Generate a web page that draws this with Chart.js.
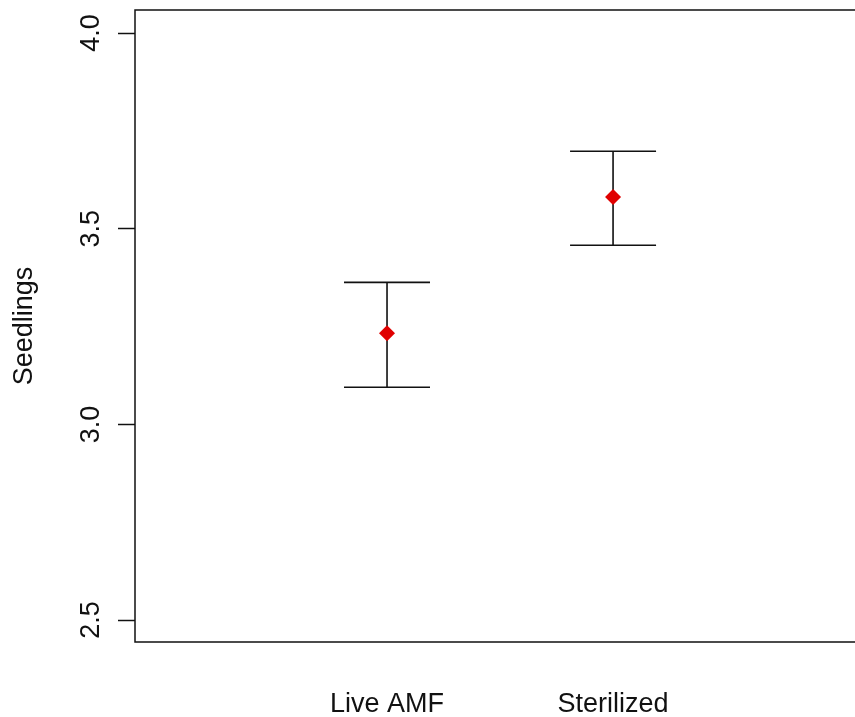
<!DOCTYPE html>
<html>
<head>
<meta charset="utf-8">
<script src="https://cdn.jsdelivr.net/npm/chart.js@4"></script>
<style>
  html, body { margin: 0; padding: 0; overflow: hidden; background: #fff; }
  #wrap { width: 855px; height: 717px; }
</style>
</head>
<body>
<div id="wrap"><canvas id="c"></canvas></div>
<script>
const categories = ["Live AMF", "Sterilized"];
const means = [3.233, 3.581];
const upper = [3.363, 3.698];
const lower = [3.095, 3.458];
const yTicks = [2.5, 3.0, 3.5, 4.0];

const font = { family: "'Liberation Sans', Arial, sans-serif", size: 27 };
const ink = "#111";

// R style box, the right side is cut off in the picture
const boxPlugin = {
  id: "box",
  afterDraw(chart) {
    const { ctx, chartArea: a } = chart;
    ctx.save();
    ctx.strokeStyle = ink;
    ctx.lineWidth = 1.5;
    ctx.beginPath();
    ctx.moveTo(chart.width, a.top);
    ctx.lineTo(a.left, a.top);
    ctx.lineTo(a.left, a.bottom);
    ctx.lineTo(chart.width, a.bottom);
    ctx.stroke();
    ctx.restore();
  },
};

// error bars, drawn under the points
const errPlugin = {
  id: "err",
  beforeDatasetsDraw(chart) {
    const { ctx, scales } = chart;
    const x = scales.x, y = scales.y;
    const cap = 43;
    ctx.save();
    ctx.strokeStyle = ink;
    ctx.lineWidth = 1.6;
    categories.forEach((_, i) => {
      const px = x.getPixelForValue(i + 1);
      const hi = y.getPixelForValue(upper[i]);
      const lo = y.getPixelForValue(lower[i]);
      ctx.beginPath();
      ctx.moveTo(px, hi);
      ctx.lineTo(px, lo);
      ctx.moveTo(px - cap, hi);
      ctx.lineTo(px + cap, hi);
      ctx.moveTo(px - cap, lo);
      ctx.lineTo(px + cap, lo);
      ctx.stroke();
    });
    ctx.restore();
  },
};

new Chart(document.getElementById("c"), {
  type: "scatter",
  data: {
    datasets: [
      {
        data: means.map((m, i) => ({ x: i + 1, y: m })),
        pointStyle: "rectRot",
        pointRadius: 8,
        pointHoverRadius: 8,
        backgroundColor: "#e00000",
        borderColor: "#e00000",
        borderWidth: 0,
      },
    ],
  },
  options: {
    responsive: true,
    maintainAspectRatio: false,
    animation: false,
    layout: { padding: { top: 10, right: 0, bottom: 0, left: 0 } },
    plugins: { legend: { display: false }, tooltip: { enabled: false } },
    scales: {
      x: {
        type: "linear",
        min: -0.115,
        max: 3.035,
        border: { display: false },
        grid: { display: false, drawTicks: false },
        afterBuildTicks: (s) => (s.ticks = categories.map((_, i) => ({ value: i + 1 }))),
        afterFit: (s) => {
          s.height = 75;
          s.paddingLeft = 0;
          s.paddingRight = 0;
        },
        ticks: {
          padding: 46,
          color: ink,
          font,
          callback: (v) => categories[v - 1] || "",
        },
      },
      y: {
        min: 2.444,
        max: 4.059,
        border: { display: false },
        grid: {
          drawOnChartArea: false,
          drawTicks: true,
          tickLength: 17,
          tickColor: ink,
          tickWidth: 1.5,
        },
        afterBuildTicks: (s) => (s.ticks = yTicks.map((v) => ({ value: v }))),
        afterFit: (s) => {
          s.width = 135;
          s.paddingTop = 0;
          s.paddingBottom = 0;
        },
        ticks: {
          minRotation: 90,
          maxRotation: 90,
          crossAlign: "center",
          padding: 8,
          color: ink,
          font,
          callback: (v) => Number(v).toFixed(1),
        },
        title: {
          display: true,
          text: "Seedlings",
          color: ink,
          font,
          padding: { top: 8, bottom: 0 },
        },
      },
    },
  },
  plugins: [errPlugin, boxPlugin],
});
</script>
</body>
</html>
